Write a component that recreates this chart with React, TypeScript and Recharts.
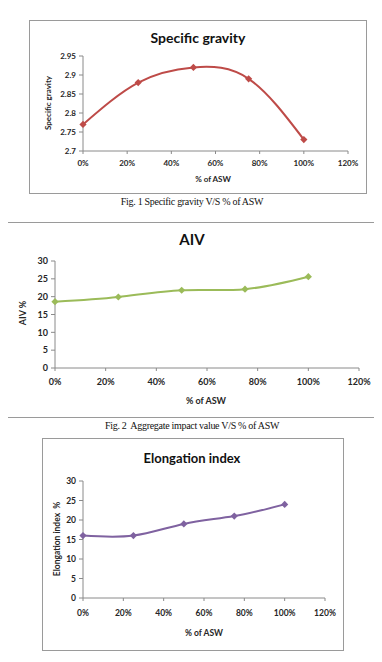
import { LineChart, Line, XAxis, YAxis } from 'recharts'

// ── Data ─────────────────────────────────────────────────────────────────────
const aswPct = [0, 25, 50, 75, 100]
const xTicks = [0, 20, 40, 60, 80, 100, 120]

const specificGravity = [2.77, 2.88, 2.92, 2.89, 2.73]
const sgTicks = [2.7, 2.75, 2.8, 2.85, 2.9, 2.95]

const aivValues = [18.6, 19.9, 21.8, 22.1, 25.6]
const aivTicks = [0, 5, 10, 15, 20, 25, 30]

const elongValues = [16, 16, 19, 21, 24]
const elongTicks = [0, 5, 10, 15, 20, 25, 30]

const FONT = 'Lato, "Open Sans", sans-serif'
const SERIF = '"Liberation Serif", "DejaVu Serif", serif'

const Diamond = (props: any) => {
  const { cx, cy, fill } = props
  if (cx == null || cy == null) return null
  const r = 3.6
  return <path d={`M${cx},${cy - r}L${cx + r},${cy}L${cx},${cy + r}L${cx - r},${cy}Z`} fill={fill} />
}

interface PanelProps {
  box: { left: number; top: number; width: number; height: number }
  margin: { top: number; right: number; bottom: number; left: number }
  values: number[]
  yTicks: number[]
  color: string
  title: string
  titleSize: number
  titlePos: [number, number]
  yLabel: string
  yLabelPos: [number, number]
  xLabelPos: [number, number]
  caption: string
  captionPos: [number, number]
  captionSize: number
  xTickMargin: number
  tickSize: number
}

const fmtY = (v: number) => String(+v.toFixed(2))

const Txt = ({ x, y, children, style }: { x: number; y: number; children: React.ReactNode; style: React.CSSProperties }) => (
  <div style={{ position: 'absolute', left: x, top: y, transform: 'translate(-50%, -50%)', whiteSpace: 'pre', ...style }}>
    {children}
  </div>
)

function Panel(p: PanelProps) {
  const data = aswPct.map((x, i) => ({ x, y: p.values[i] }))
  const axisStroke = '#8a8a8a'
  const tick = { fill: '#262626', fontSize: p.tickSize, fontWeight: 700, fontFamily: FONT }
  return (
    <>
      <div style={{
        position: 'absolute', left: p.box.left, top: p.box.top,
        width: p.box.width, height: p.box.height, border: '1px solid #9a9a9a', boxSizing: 'border-box',
      }}>
        <LineChart width={p.box.width - 2} height={p.box.height - 2} data={data} margin={p.margin}>
          <XAxis type="number" dataKey="x" domain={[0, 120]} ticks={xTicks} interval={0}
            tickFormatter={(v: number) => `${v}%`} tick={tick} tickSize={3} tickMargin={p.xTickMargin}
            axisLine={{ stroke: axisStroke }} tickLine={{ stroke: axisStroke }} height={20} />
          <YAxis type="number" domain={[p.yTicks[0], p.yTicks[p.yTicks.length - 1]]} ticks={p.yTicks} interval={0}
            tickFormatter={fmtY} tick={tick} tickSize={4} tickMargin={3} width={30}
            axisLine={{ stroke: axisStroke }} tickLine={{ stroke: axisStroke }} />
          <Line type="natural" dataKey="y" stroke={p.color} strokeWidth={2}
            dot={<Diamond fill={p.color} />} activeDot={false} isAnimationActive={false} />
        </LineChart>
      </div>
      <Txt x={p.titlePos[0]} y={p.titlePos[1]} style={{ fontFamily: FONT, fontWeight: 700, fontSize: p.titleSize, color: '#111' }}>
        {p.title}
      </Txt>
      <Txt x={p.yLabelPos[0]} y={p.yLabelPos[1]} style={{ fontFamily: FONT, fontWeight: 700, fontSize: p.tickSize, color: '#262626', transform: 'translate(-50%, -50%) rotate(-90deg)' }}>
        {p.yLabel}
      </Txt>
      <Txt x={p.xLabelPos[0]} y={p.xLabelPos[1]} style={{ fontFamily: FONT, fontWeight: 700, fontSize: p.tickSize, color: '#262626' }}>
        % of ASW
      </Txt>
      <Txt x={p.captionPos[0]} y={p.captionPos[1]} style={{ fontFamily: SERIF, fontSize: p.captionSize, color: '#111', letterSpacing: -0.3 }}>
        {p.caption}
      </Txt>
    </>
  )
}

export default function App() {
  return (
    <div style={{ position: 'relative', width: 382, height: 662, margin: -8, overflow: 'hidden', background: '#fff' }}>
      <Panel
        box={{ left: 29, top: 20, width: 338, height: 174 }}
        margin={{ top: 35, right: 18, bottom: 22, left: 23 }}
        values={specificGravity} yTicks={sgTicks} color="#BE4B48"
        title="Specific gravity" titleSize={14} titlePos={[198, 37]}
        yLabel="Specific gravity" yLabelPos={[48, 103]} xLabelPos={[213, 179]}
        caption="Fig. 1 Specific gravity V/S % of ASW" captionPos={[192, 201]} captionSize={10}
        xTickMargin={6} tickSize={8}
      />
      <Panel
        box={{ left: 4, top: 222, width: 377, height: 196 }}
        margin={{ top: 38, right: 21, bottom: 29, left: 20 }}
        values={aivValues} yTicks={aivTicks} color="#9BBB59"
        title="AIV" titleSize={15} titlePos={[192, 239]}
        yLabel="AIV %" yLabelPos={[22, 313]} xLabelPos={[206, 400]}
        caption="Fig. 2  Aggregate impact value V/S % of ASW" captionPos={[192, 425]} captionSize={10}
        xTickMargin={8} tickSize={9}
      />
      <Panel
        box={{ left: 42, top: 438, width: 302, height: 213 }}
        margin={{ top: 42, right: 18, bottom: 32, left: 10 }}
        values={elongValues} yTicks={elongTicks} color="#7F62A0"
        title="Elongation index" titleSize={13} titlePos={[192, 458]}
        yLabel="Elongation index  %" yLabelPos={[57, 539]} xLabelPos={[204, 633]}
        caption="Fig. 3  Aggregate Elongation index value V/S % of ASW" captionPos={[192, 658]} captionSize={10}
        xTickMargin={9} tickSize={8.5}
      />
    </div>
  )
}
